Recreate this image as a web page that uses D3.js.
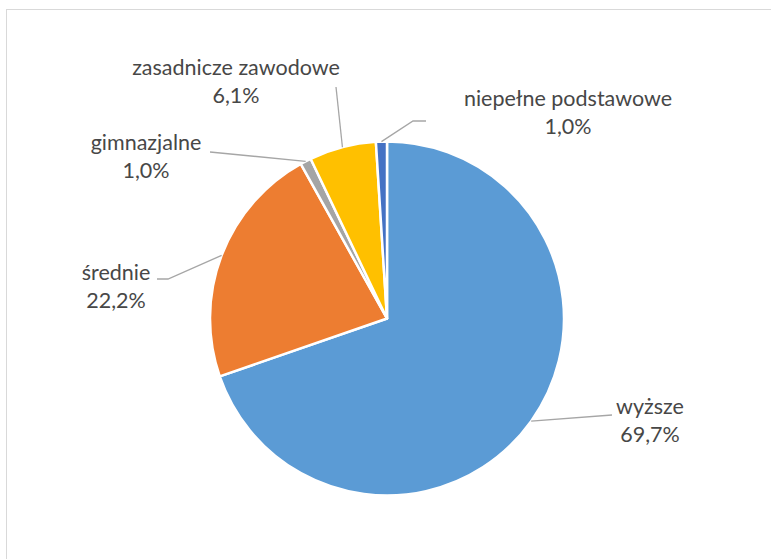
<!DOCTYPE html>
<html lang="pl">
<head>
    <meta charset="UTF-8">
    <title>Wykształcenie</title>
    <script src="https://d3js.org/d3.v7.min.js"></script>
    <style>
        body { margin: 0; background: #fff; }
        .lbl { font-family: Lato, "Open Sans", sans-serif; font-size: 21.5px; fill: #474747; }
        .leader { fill: none; stroke: #a6a6a6; stroke-width: 1.3; }
    </style>
</head>
<body>
    <svg id="chart"></svg>
    <script>
        // data
        var categories = ["wyższe", "średnie", "gimnazjalne", "zasadnicze zawodowe", "niepełne podstawowe"];
        var values = [69.7, 22.2, 1.0, 6.1, 1.0];
        var colors = ["#5b9bd5", "#ed7d31", "#a5a5a5", "#ffc000", "#4472c4"];

        // label layout: text centre, first baseline, leader end points
        var labelLayout = [
            {x: 650, y: 414, pts: [[612, 415]]},
            {x: 116, y: 280, pts: [[168, 279], [157, 279]]},
            {x: 146, y: 150, pts: [[210, 152]]},
            {x: 236, y: 75, pts: [[336, 87]]},
            {x: 568, y: 106, pts: [[413, 121], [426, 121]]}
        ];

        var W = 771, H = 559,
            cx = 387, cy = 318.5, r = 177;

        var svg = d3.select("#chart").attr("width", W).attr("height", H);

        svg.append("rect")
            .attr("x", 6.5).attr("y", 9.5)
            .attr("width", W).attr("height", H)
            .attr("fill", "none").attr("stroke", "#d9d9d9");

        var data = categories.map(function(c, i) { return {name: c, value: values[i], color: colors[i], lay: labelLayout[i]}; });

        var pie = d3.pie().sort(null).value(function(d) { return d.value; });
        var arc = d3.arc().innerRadius(0).outerRadius(r);
        var arcs = pie(data);

        var g = svg.append("g").attr("transform", "translate(" + cx + "," + cy + ")");

        g.selectAll("path.slice")
            .data(arcs)
            .enter().append("path")
            .attr("class", "slice")
            .attr("d", arc)
            .attr("fill", function(d) { return d.data.color; })
            .attr("stroke", "#fff")
            .attr("stroke-width", 2.5)
            .attr("stroke-linejoin", "round");

        // leader lines from slice edge
        svg.selectAll("path.leader")
            .data(arcs)
            .enter().append("path")
            .attr("class", "leader")
            .attr("d", function(d) {
                var a = (d.startAngle + d.endAngle) / 2;
                var p0 = [cx + r * Math.sin(a), cy - r * Math.cos(a)];
                return d3.line()([p0].concat(d.data.lay.pts));
            });

        var fmt = function(v) { return v.toFixed(1).replace(".", ",") + "%"; };

        var t = svg.selectAll("text.lbl")
            .data(arcs)
            .enter().append("text")
            .attr("class", "lbl")
            .attr("text-anchor", "middle");
        t.append("tspan")
            .attr("x", function(d) { return d.data.lay.x; })
            .attr("y", function(d) { return d.data.lay.y; })
            .text(function(d) { return d.data.name; });
        t.append("tspan")
            .attr("x", function(d) { return d.data.lay.x; })
            .attr("y", function(d) { return d.data.lay.y + 28; })
            .text(function(d) { return fmt(d.data.value); });
    </script>
</body>
</html>
